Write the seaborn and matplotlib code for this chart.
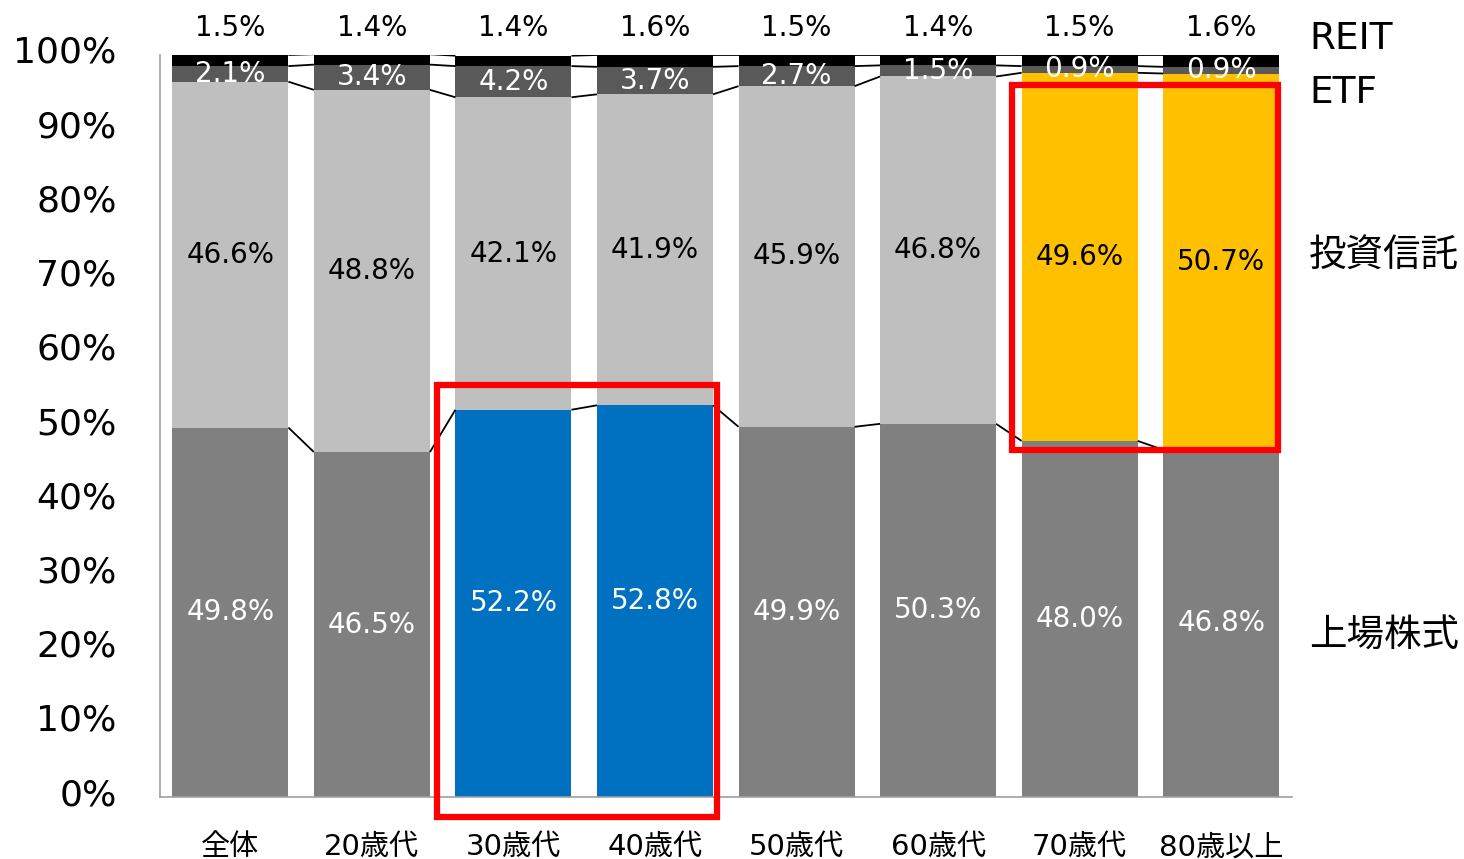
import matplotlib
matplotlib.use('Agg')
import numpy as np
import pandas as pd
import matplotlib.pyplot as plt
import matplotlib.transforms as mtransforms
import seaborn as sns
from matplotlib.patches import Rectangle

# data (percent)
categories = ['全体', '20歳代', '30歳代', '40歳代', '50歳代', '60歳代', '70歳代', '80歳以上']
stocks = [49.8, 46.5, 52.2, 52.8, 49.9, 50.3, 48.0, 46.8]   # 上場株式
funds = [46.6, 48.8, 42.1, 41.9, 45.9, 46.8, 49.6, 50.7]    # 投資信託
etf = [2.1, 3.4, 4.2, 3.7, 2.7, 1.5, 0.9, 0.9]              # ETF
reit = [1.5, 1.4, 1.4, 1.6, 1.5, 1.4, 1.5, 1.6]             # REIT
series_names = ['上場株式', '投資信託', 'ETF', 'REIT']

sns.set_style('white')
plt.rcParams['font.family'] = ['DejaVu Sans', 'Noto Sans CJK JP']
plt.rcParams['text.color'] = 'black'
plt.rcParams['xtick.labelcolor'] = 'black'
plt.rcParams['ytick.labelcolor'] = 'black'

GRAY, LGRAY, DGRAY, BLACK = '#808080', '#bfbfbf', '#595959', '#000000'
BLUE, YELLOW, RED = '#0070c0', '#ffc000', '#ff0000'

df = pd.DataFrame({'cat': categories, 'stocks': stocks, 'funds': funds,
                   'etf': etf, 'reit': reit})
df['c1'] = df['stocks']
df['c2'] = df['c1'] + df['funds']
df['c3'] = df['c2'] + df['etf']
df['c4'] = df['c3'] + df['reit']

stock_colors = [BLUE if c in ('30歳代', '40歳代') else GRAY for c in categories]
fund_colors = [YELLOW if c in ('70歳代', '80歳以上') else LGRAY for c in categories]

fig = plt.figure(figsize=(14.64, 8.59), dpi=100)
ax = fig.add_axes([0.109, 0.072, 0.7735, 0.864])

W = 0.82
# draw cumulative layers from top down so each lower layer covers the one above
layers = [('c4', [BLACK] * 8), ('c3', [DGRAY] * 8), ('c2', fund_colors), ('c1', stock_colors)]
for col, cols in layers:
    sns.barplot(data=df, x='cat', y=col, hue='cat', palette=cols, width=W,
                saturation=1, legend=False, ax=ax, linewidth=0)

# series lines between bars
x = np.arange(len(categories))
for col in ['c1', 'c2', 'c3', 'c4']:
    v = df[col].values
    for i in range(len(v) - 1):
        ax.plot([x[i] + W / 2, x[i + 1] - W / 2], [v[i], v[i + 1]],
                color='black', lw=1.3, solid_capstyle='butt', zorder=1)

# data labels
fs = 20
for i in range(len(categories)):
    ax.text(x[i], df['c1'][i] / 2, f'{stocks[i]:.1f}%', ha='center', va='center',
            color='white', fontsize=fs)
    ax.text(x[i], df['c1'][i] + funds[i] / 2, f'{funds[i]:.1f}%', ha='center',
            va='center', color='black', fontsize=fs)
    ax.text(x[i], df['c2'][i] + etf[i] / 2, f'{etf[i]:.1f}%', ha='center',
            va='center', color='white', fontsize=fs)
    ax.text(x[i], 103.6, f'{reit[i]:.1f}%', ha='center', va='center',
            color='black', fontsize=fs, clip_on=False)

# series names at the right
name_y = [21.8, 73.0, 94.9, 102.2]
for name, yy in zip(series_names, name_y):
    ax.text(1.015, yy, name, transform=ax.get_yaxis_transform(), ha='left',
            va='center', fontsize=27, color='black', clip_on=False)

# red highlight boxes
r1 = Rectangle((2 - W / 2 - 0.13, -2.7), (3 - 2) + W + 0.16,
               max(df['c1'][2], df['c1'][3]) + 2.7 + 2.7,
               fill=False, ec=RED, lw=4.5, clip_on=False, zorder=5)
lo = min(df['c1'][6], df['c1'][7])
r2 = Rectangle((6 - W / 2 - 0.07, lo), (7 - 6) + W + 0.06,
               max(df['c2'][6], df['c2'][7]) - 1.7 - lo,
               fill=False, ec=RED, lw=4.5, clip_on=False, zorder=5)
ax.add_patch(r1)
ax.add_patch(r2)

ax.set_xlim(-0.5, len(categories) - 0.5)
ax.set_ylim(0, 100)
ax.set_yticks(np.arange(0, 101, 10))
ax.set_yticklabels([f'{t}%' for t in range(0, 101, 10)])
ax.set_xlabel('')
ax.set_ylabel('')
ax.set_xticks(x)
ax.set_xticklabels(categories)
ax.set_xticks(np.arange(-0.5, len(categories)), minor=True)
ax.tick_params(axis='x', which='major', length=0, pad=26, labelsize=21)
ax.tick_params(axis='x', which='minor', length=8, width=1.2, color='#a0a0a0', direction='out')
ax.tick_params(axis='y', length=7, width=1.2, color='#a0a0a0', direction='out', pad=24,
               labelsize=26)
# nudge y tick labels up a little, as in the reference
shift = mtransforms.ScaledTranslation(0, 4 / 72, fig.dpi_scale_trans)
for lbl in ax.get_yticklabels():
    lbl.set_transform(lbl.get_transform() + shift)
for s in ['top', 'right']:
    ax.spines[s].set_visible(False)
for s in ['left', 'bottom']:
    ax.spines[s].set_color('#a0a0a0')
    ax.spines[s].set_linewidth(1.2)

fig.savefig('out.png', dpi=100)
